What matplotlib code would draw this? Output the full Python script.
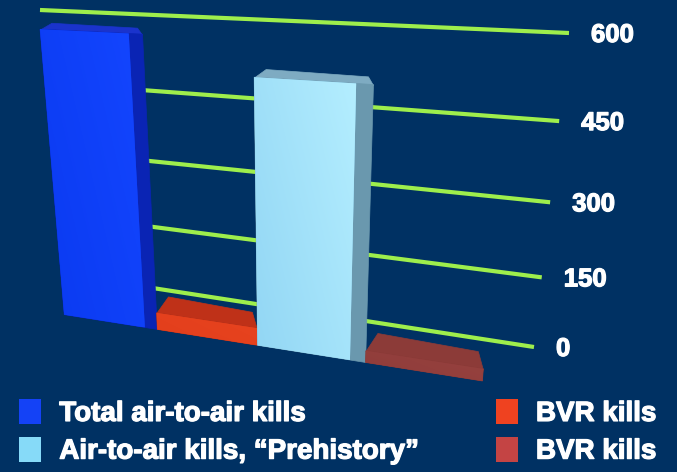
import numpy as np
import matplotlib
matplotlib.use("Agg")
import matplotlib.pyplot as plt
from matplotlib.transforms import Transform, offset_copy
from matplotlib.patches import Polygon, Patch
import matplotlib.patheffects as pe
from matplotlib.colors import LinearSegmentedColormap

# ---------------- data ----------------
series = ["Total air-to-air kills", "BVR kills",
          "Air-to-air kills, \u201cPrehistory\u201d", "BVR kills"]
values = [580, 36, 515, 24]
ticks = [0, 150, 300, 450, 600]
tick_labels = ["0", "150", "300", "450", "600"]

# ---------------- style ----------------
BG = "#003163"
GRID = "#9eee4c"
front_grad = [("#1446ff", "#0a3af0"), ("#e8441f", "#e23e1c"),
              ("#b4eeff", "#92d6f4"), ("#97423f", "#8f3c3a")]
side_c = ["#0a24b4", "#b0301a", "#6a98ae", "#8a3a37"]
top_c = ["#1a33cc", "#bf3118", "#7eabc2", "#8c3b38"]
legend_c = ["#1442f6", "#ef4220", "#86daf8", "#c44444"]
side_frac = [0.13, 0.0, 0.14, 0.0]
FONT = "Liberation Sans"


def fit_h(src, dst):
    src = np.asarray(src, float)
    dst = np.asarray(dst, float)
    S = np.diag([1.0, 1 / 100.0, 1.0])
    D = np.diag([1 / 100.0, 1 / 100.0, 1.0])
    s = src / [1.0, 100.0]
    d = dst / 100.0
    A = []
    for (u, v), (x, y) in zip(s, d):
        A.append([u, v, 1, 0, 0, 0, -x * u, -x * v, -x])
        A.append([0, 0, 0, u, v, 1, -y * u, -y * v, -y])
    _, _, Vt = np.linalg.svd(np.array(A))
    Hn = Vt[-1].reshape(3, 3)
    return np.linalg.inv(D) @ Hn @ S


class Proj(Transform):
    input_dims = 2
    output_dims = 2
    is_separable = False

    def __init__(self, H):
        super().__init__()
        self.H = H

    def transform_non_affine(self, values):
        p = np.asarray(values, float)
        h = np.c_[p, np.ones(len(p))] @ self.H.T
        return h[:, :2] / h[:, 2:3]


# wall plane (u in 0..1 across, v = value)
Hw = fit_h([(0, 0), (1, 0), (0, 600), (1, 600)],
           [(75, 276), (534, 347), (40, 10), (569, 33)])
# bar plane (u = slot position 0..4)
Hb = fit_h([(0, 0), (1, 0), (2, 0), (3, 0), (4, 0), (0, 600), (3, 600)],
           [(63, 314), (157, 329), (258, 345), (371, 362), (478, 383),
            (39, 20), (375, 31)])

fig = plt.figure(figsize=(6.77, 4.72), dpi=100, facecolor=BG)
ax = fig.add_axes([0, 0, 1, 1])
ax.set_facecolor(BG)
ax.set_xlim(0, 677)
ax.set_ylim(472, 0)
ax.axis("off")

Tw = Proj(Hw) + ax.transData
Pb = Proj(Hb)
Tb = Pb + ax.transData

# gridlines on the back wall
for t in ticks:
    ax.plot([0, 1], [t, t], transform=Tw, color=GRID, lw=3.0,
            solid_capstyle="butt", zorder=1)

# tick labels
txt_tr = offset_copy(Tw, fig=fig, x=22 * 0.72, y=-2 * 0.72, units="points")
for t, lab in zip(ticks, tick_labels):
    tx = ax.text(1, t, lab, transform=txt_tr, color="white", fontsize=18.5,
                 fontweight="bold", family=FONT, ha="left", va="center",
                 zorder=10)
    tx.set_path_effects([pe.withStroke(linewidth=0.9, foreground="white")])

# bars
for i, v in enumerate(values):
    s = side_frac[i]
    z = 3 + i
    # top face
    fl, fr = Pb.transform([(i, v), (i + 1, v)])
    d = 6 + 0.035 * (fl[1] - 30)
    top = [fl + [0, 1], fr + [0, 1], fr + [-5, -d], fl + [12, -d]]
    ax.add_patch(Polygon(top, closed=True, transform=ax.transData,
                         facecolor=top_c[i], edgecolor=top_c[i], lw=0.5,
                         zorder=z))
    # whole bar in side colour, then the front face on top
    ax.add_patch(Polygon([(i, 0), (i + 1, 0), (i + 1, v), (i, v)],
                         closed=True, transform=Tb, facecolor=side_c[i],
                         edgecolor=side_c[i], lw=0.5, zorder=z))
    front = Polygon([(i, 0), (i + 1 - s, 0), (i + 1 - s, v), (i, v)],
                    closed=True, transform=Tb, facecolor=front_grad[i][1],
                    edgecolor="none", zorder=z)
    ax.add_patch(front)
    # gradient fill clipped to the front face
    pts = Pb.transform([(i, 0), (i + 1 - s, 0), (i + 1 - s, v), (i, v)])
    x0, y0 = pts.min(axis=0)
    x1, y1 = pts.max(axis=0)
    gx, gy = np.meshgrid(np.linspace(0, 1, 64), np.linspace(0, 1, 64))
    grad = 0.6 * gx + 0.4 * (1 - gy)
    cmap = LinearSegmentedColormap.from_list("g", [front_grad[i][1],
                                                   front_grad[i][0]])
    im = ax.imshow(grad, cmap=cmap, extent=(x0, x1, y1, y0), origin="upper",
                   aspect="auto", zorder=z, interpolation="bilinear")
    im.set_clip_path(front)

# legend
handles = [Patch(facecolor=legend_c[k], edgecolor="none") for k in (0, 2, 1, 3)]
labels = [series[k] for k in (0, 2, 1, 3)]
leg = fig.legend(handles, labels, ncol=2, loc="upper left",
                 bbox_to_anchor=(19 / 677, 1 - 399 / 472), frameon=False,
                 prop={"family": FONT, "weight": "bold", "size": 20},
                 labelcolor="white", handlelength=0.8, handleheight=1.0,
                 handletextpad=0.65, columnspacing=2.8, labelspacing=0.35,
                 borderpad=0, borderaxespad=0)
for t in leg.get_texts():
    t.set_path_effects([pe.withStroke(linewidth=0.9, foreground="white")])

ax.set_xlim(0, 677)
ax.set_ylim(472, 0)
fig.savefig("out.png", dpi=100, facecolor=BG)
